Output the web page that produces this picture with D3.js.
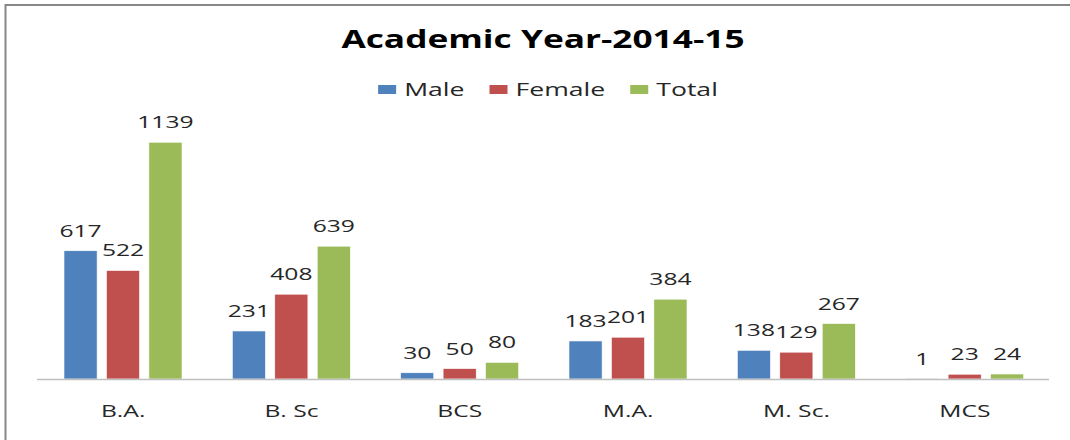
<!DOCTYPE html>
<html>
<head>
<meta charset="utf-8">
<script src="https://cdn.jsdelivr.net/npm/d3@7"></script>
<style>
  body { margin: 0; background: #fff; }
  text { font-family: "Open Sans", sans-serif; }
</style>
</head>
<body>
<div id="chart"></div>
<script>
// data
const courses = ["B.A.", "B. Sc", "BCS", "M.A.", "M. Sc.", "MCS"]
const series = ["Male", "Female", "Total"]
const male = [617, 231, 30, 183, 138, 1]
const female = [522, 408, 50, 201, 129, 23]
const total = [1139, 639, 80, 384, 267, 24]
const colors = ["#4F81BD", "#C0504D", "#9BBB59"]

const width = 1070
const height = 440
const baseY = 379

var rows = courses.map((c, i) => ({
  course: c,
  values: [male[i], female[i], total[i]].map((v, j) => ({ key: series[j], value: v }))
}))

var svg = d3.select("#chart")
  .append("svg")
  .attr("width", width)
  .attr("height", height)

// frame
svg.append("rect")
  .attr("x", 5.5).attr("y", 5)
  .attr("width", 1200).attr("height", 600)
  .style("fill", "none")
  .style("stroke", "#878787")
  .style("stroke-width", 2)

var x0 = d3.scaleBand().domain(courses).range([39, 1049])
var x1 = d3.scaleBand().domain(series).range([25, 143]).paddingInner(0.22)
var y = d3.scaleLinear().domain([0, 1400]).range([baseY, 88])
var color = d3.scaleOrdinal().domain(series).range(colors)

// stretch text horizontally like the source picture
function stretch (sel, sx) {
  sel.each(function () {
    var t = d3.select(this)
    var tx = +t.attr("data-x"), ty = +t.attr("data-y")
    t.attr("transform", `translate(${tx},${ty}) scale(${sx},1)`)
  })
}

// bars
var groups = svg.selectAll(".group")
  .data(rows)
  .enter().append("g")
  .attr("class", "group")
  .attr("transform", d => `translate(${x0(d.course)},0)`)

groups.selectAll("rect")
  .data(d => d.values)
  .enter().append("rect")
  .attr("x", d => x1(d.key))
  .attr("y", d => y(d.value))
  .attr("width", x1.bandwidth())
  .attr("height", d => baseY - y(d.value))
  .style("fill", d => color(d.key))
  .style("stroke", "#fff")
  .style("stroke-width", 0.6)

// value labels
groups.selectAll(".val")
  .data(d => d.values)
  .enter().append("text")
  .attr("class", "val")
  .attr("data-x", d => x1(d.key) + x1.bandwidth() / 2)
  .attr("data-y", d => y(d.value) - 14)
  .attr("text-anchor", "middle")
  .style("font-size", "17px")
  .style("fill", "#262626")
  .text(d => d.value)
  .call(stretch, 1.45)

// axis line
svg.append("line")
  .attr("x1", 37).attr("x2", 1049)
  .attr("y1", baseY + 0.5).attr("y2", baseY + 0.5)
  .style("stroke", "#BFBFBF")
  .style("stroke-width", 1.5)

// category labels
svg.selectAll(".cat")
  .data(courses)
  .enter().append("text")
  .attr("class", "cat")
  .attr("data-x", d => x0(d) + x0.bandwidth() / 2)
  .attr("data-y", 417)
  .attr("text-anchor", "middle")
  .style("font-size", "17px")
  .style("fill", "#262626")
  .text(d => d)
  .call(stretch, 1.45)

// title
svg.append("text")
  .attr("data-x", 543).attr("data-y", 48)
  .attr("text-anchor", "middle")
  .style("font-size", "25px")
  .style("font-weight", "bold")
  .style("fill", "#000")
  .text("Academic Year-2014-15")
  .call(stretch, 1.41)

// legend
var legSx = 1.4
var legend = svg.append("g")
var lx = 0
series.forEach((s, i) => {
  legend.append("rect")
    .attr("x", lx).attr("y", 85)
    .attr("width", 18).attr("height", 9)
    .style("fill", color(s))
  var t = legend.append("text")
    .attr("data-x", lx + 26).attr("data-y", 96)
    .style("font-size", "19px")
    .style("fill", "#262626")
    .text(s)
  var w = t.node().getComputedTextLength() * legSx
  t.call(stretch, legSx)
  lx += 26 + w + (i < series.length - 1 ? 25 : 0)
})
legend.attr("transform", `translate(${548 - lx / 2},0)`)
</script>
</body>
</html>
